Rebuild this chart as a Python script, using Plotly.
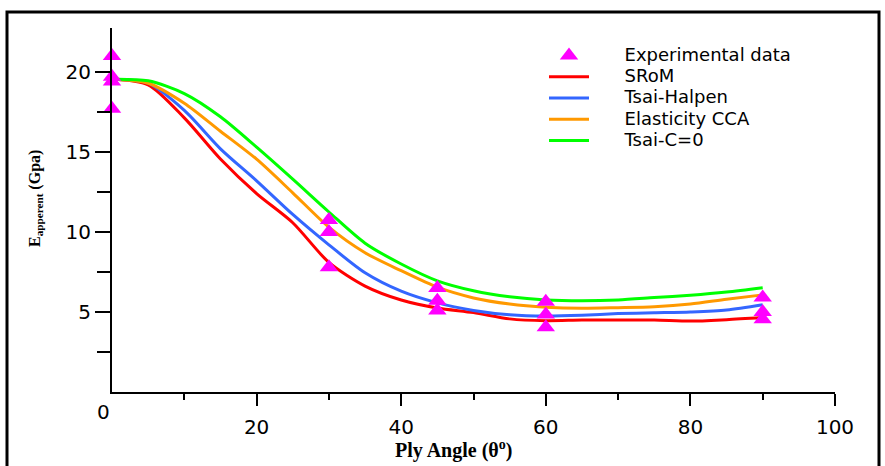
import plotly.graph_objects as go

# ---- data ----
angle = [0, 5, 10, 15, 20, 25, 30, 35, 40, 45, 50, 55, 60, 65, 70, 75, 80, 85, 90]
srom = [19.55, 19.2, 17.13, 14.56, 12.4, 10.58, 8.1, 6.62, 5.75, 5.25, 4.96, 4.57, 4.46, 4.5, 4.5, 4.5, 4.43, 4.52, 4.65]
tsai_halpen = [19.55, 19.3, 17.6, 15.2, 13.2, 11.1, 9.2, 7.45, 6.3, 5.57, 5.1, 4.83, 4.75, 4.8, 4.9, 4.95, 5.0, 5.12, 5.45]
elasticity_cca = [19.55, 19.3, 18.05, 16.3, 14.55, 12.45, 10.3, 8.7, 7.58, 6.55, 5.88, 5.5, 5.3, 5.23, 5.27, 5.33, 5.5, 5.8, 6.07]
tsai_c0 = [19.55, 19.45, 18.65, 17.2, 15.3, 13.3, 11.25, 9.3, 8.0, 6.95, 6.33, 5.95, 5.75, 5.7, 5.75, 5.9, 6.05, 6.25, 6.52]

exp_angle = [0, 0, 0, 0, 30, 30, 30, 45, 45, 45, 60, 60, 60, 90, 90, 90]
exp_value = [21.0, 19.7, 19.4, 17.7, 10.75, 10.0, 7.8, 6.5, 5.7, 5.1, 5.64, 4.85, 4.05, 5.9, 5.0, 4.55]

x_major = [20, 40, 60, 80, 100]
x_minor = [10, 30, 50, 70, 90]
y_major = [5, 10, 15, 20]
y_minor = [2.5, 7.5, 12.5, 17.5]

series = [
    ("SRoM", srom, "#ff0000"),
    ("Tsai-Halpen", tsai_halpen, "#3366ff"),
    ("Elasticity CCA", elasticity_cca, "#ff9900"),
    ("Tsai-C=0", tsai_c0, "#00ff00"),
]

def legend_name(s):
    return '<span style="font-size:18px">\u2003\u2002\u2009' + s + '</span>'

fig = go.Figure()
for i, (name, vals, col) in enumerate(series):
    fig.add_trace(go.Scatter(
        x=angle, y=vals, mode="lines", name=legend_name(name),
        line=dict(color=col, width=3, shape="spline", smoothing=0.8),
        legendrank=2 + i, cliponaxis=False,
    ))

fig.add_trace(go.Scatter(
    x=exp_angle, y=exp_value, mode="markers", name=legend_name("Experimental data"),
    marker=dict(symbol="triangle-up", size=16, color="#ff00ff"),
    legendrank=1, cliponaxis=False,
))

L, R, T, B = 112, 50, 28, 74
W, H = 885, 466
pw, ph = W - L - R, H - T - B

def px(xp):
    return (xp - L) / pw

def py(yp):
    return (H - B - yp) / ph

fig.update_layout(
    width=W, height=H,
    margin=dict(l=L, r=R, t=T, b=B),
    paper_bgcolor="white", plot_bgcolor="white",
    font=dict(family="DejaVu Sans", color="black"),
    showlegend=True,
    legend=dict(
        x=px(544), y=py(40), xanchor="left", yanchor="top",
        font=dict(family="DejaVu Sans", size=14, color="black"),
        bgcolor="rgba(0,0,0,0)", itemwidth=40, tracegroupgap=0,
    ),
    xaxis=dict(
        range=[0, 100], tickvals=x_major, ticktext=[str(v) for v in x_major],
        ticks="outside", ticklen=12, tickwidth=2, tickcolor="black",
        minor=dict(tickvals=x_minor, ticks="outside", ticklen=6, tickwidth=2, tickcolor="black"),
        showline=True, linewidth=2, linecolor="black", showgrid=False, zeroline=False,
        tickfont=dict(family="DejaVu Sans", size=20, color="black"),
        ticklabelstandoff=4,
    ),
    yaxis=dict(
        range=[0, 22.75], tickvals=y_major, ticktext=[str(v) for v in y_major],
        ticks="outside", ticklen=15, tickwidth=2, tickcolor="black",
        minor=dict(tickvals=y_minor, ticks="outside", ticklen=13, tickwidth=2, tickcolor="black"),
        showline=True, linewidth=2, linecolor="black", showgrid=False, zeroline=False,
        tickfont=dict(family="DejaVu Sans", size=20, color="black"),
    ),
    shapes=[dict(
        type="rect", xref="paper", yref="paper",
        x0=px(7), x1=px(879), y0=py(480), y1=py(12),
        line=dict(color="black", width=3), fillcolor="rgba(0,0,0,0)", layer="below",
    )],
    annotations=[
        dict(text="0", xref="paper", yref="paper", x=px(103), y=py(412),
             xanchor="center", yanchor="middle", showarrow=False,
             font=dict(family="DejaVu Sans", size=20, color="black")),
        dict(text="<b>Ply Angle (θ<sup>o</sup>)</b>", xref="paper", yref="paper",
             x=px(453), y=py(450), xanchor="center", yanchor="middle", showarrow=False,
             font=dict(family="Liberation Serif", size=20, color="black")),
        dict(text="<b>E<sub>apperent</sub> (Gpa)</b>", xref="paper", yref="paper",
             x=px(35), y=py(199), xanchor="center", yanchor="middle", showarrow=False,
             textangle=-90,
             font=dict(family="Liberation Serif", size=16, color="black")),
    ],
)

fig.write_html(
    "out.html",
    config={"displayModeBar": False},
    post_script="document.body.style.margin='0';document.body.style.overflow='hidden';",
)
